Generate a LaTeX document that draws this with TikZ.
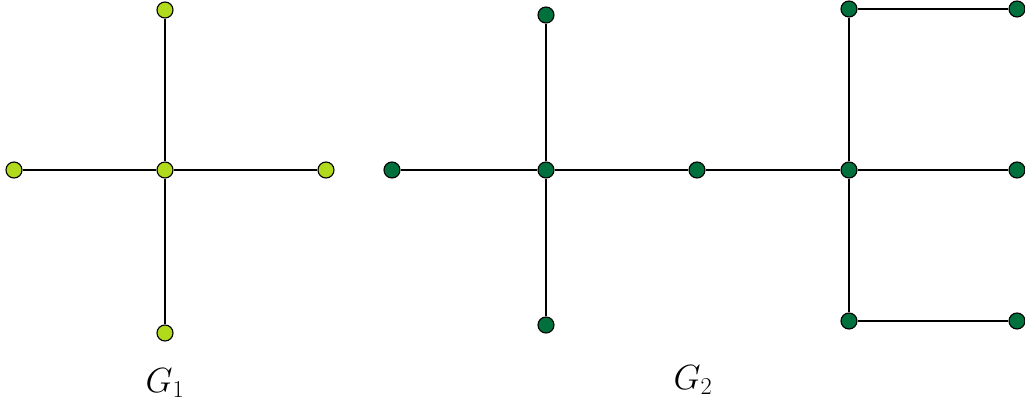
\documentclass[tikz,border=0pt]{standalone}
\usepackage{amsmath}
\usetikzlibrary{positioning}

\definecolor{lightgreen}{RGB}{178,218,28}
\definecolor{darkgreen}{RGB}{0,112,60}

\begin{document}
\begin{tikzpicture}[
  x=0.025cm, y=-0.025cm,
  vtx/.style={circle, draw=black, line width=0.8pt, inner sep=0pt, minimum size=0.4cm},
  vone/.style={vtx, fill=lightgreen},
  vtwo/.style={vtx, fill=darkgreen},
  edge/.style={draw=black, line width=0.9pt},
  lbl/.style={font=\fontsize{26}{30}\selectfont}
]
\useasboundingbox (0,0) rectangle (1025,410);

% G1
\node[vone] (c) at (165,170) {};
\node[vone] (ct) at (165,10) {};
\node[vone] (cb) at (165,333) {};
\node[vone] (cl) at (14,170) {};
\node[vone] (cr) at (326,170) {};

\draw[edge] (ct) -- (c) (cb) -- (c) (cl) -- (c) (cr) -- (c);

\node[lbl] (g1) at (165,383) {$G_1$};

% G2
\node[vtwo] (a) at (392,170) {};
\node[vtwo] (b) at (546,170) {};
\node[vtwo] (bt) at (546,15) {};
\node[vtwo] (bb) at (546,325) {};
\node[vtwo] (m) at (697,170) {};
\node[vtwo] (d) at (849,170) {};
\node[vtwo] (dt) at (849,9) {};
\node[vtwo] (dtr) at (1017,9) {};
\node[vtwo] (dr) at (1017,170) {};
\node[vtwo] (db) at (849,321) {};
\node[vtwo] (dbr) at (1017,321) {};

\draw[edge] (a) -- (b) (b) -- (m) (m) -- (d) (d) -- (dr);
\draw[edge] (bt) -- (b) (b) -- (bb);
\draw[edge] (dt) -- (d) (d) -- (db);
\draw[edge] (dt) -- (dtr) (db) -- (dbr);

\node[lbl] (g2) at (693,380) {$G_2$};

\end{tikzpicture}
\end{document}
